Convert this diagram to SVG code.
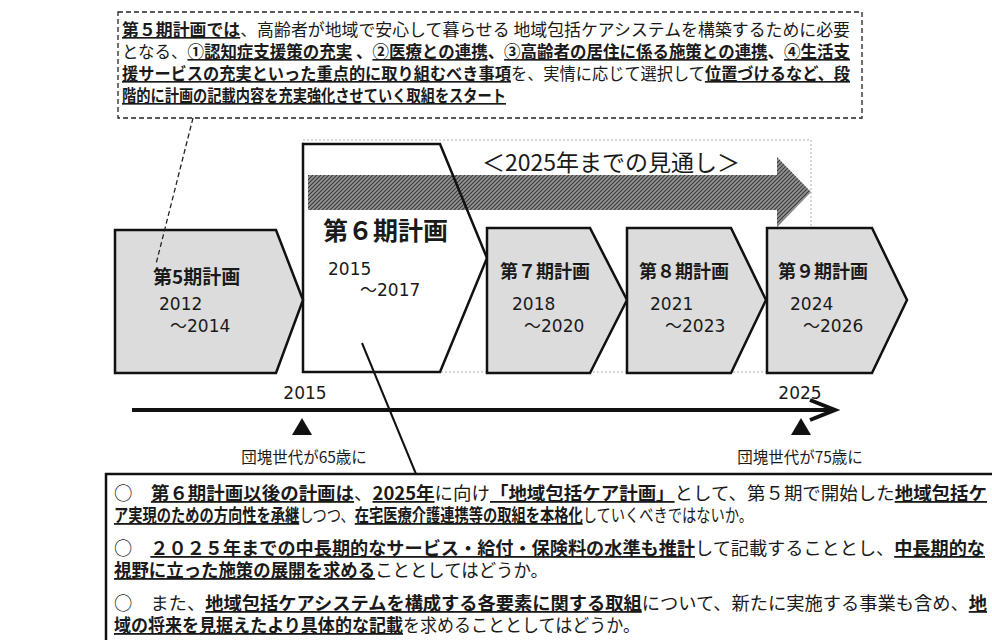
<svg xmlns="http://www.w3.org/2000/svg" width="992" height="640" viewBox="0 0 992 640">
<defs>
<style>
text{font-family:"Noto Sans CJK JP","Noto Sans CJK SC",sans-serif;fill:#1a1a1a}
.b{font-weight:bold}
.u{text-decoration:underline}
.chev{fill:#dcdcdc;stroke:#111;stroke-width:2.5}
.lbl{font-size:18px;font-weight:bold}
.yr{font-size:17px;font-family:"DejaVu Sans","Noto Sans CJK JP",sans-serif}
.top{font-size:16.5px}
.bot{font-size:18px}
</style>
<pattern id="hatch" width="4" height="4" patternUnits="userSpaceOnUse">
<rect width="4" height="4" fill="#959595"/>
<path d="M0 4L4 0M-1 1L1 -1M3 5L5 3" stroke="#3a3a3a" stroke-width="1.2"/>
</pattern>
</defs>
<rect width="992" height="640" fill="#fff"/>

<g id="top-note">
<rect x="118" y="12" width="744" height="106" fill="#fff" stroke="#222" stroke-width="1.3" stroke-dasharray="5 3"/>
<text class="top" x="122" y="36" textLength="728" lengthAdjust="spacingAndGlyphs"><tspan class="b u">第５期計画では</tspan>、高齢者が地域で安心して暮らせる 地域包括ケアシステムを構築するために必要</text>
<text class="top" x="122" y="58" textLength="728" lengthAdjust="spacingAndGlyphs">となる、<tspan class="b u">①認知症支援策の充実</tspan><tspan class="b"> 、</tspan><tspan class="b u">②医療との連携</tspan><tspan class="b">、</tspan><tspan class="b u">③高齢者の居住に係る施策との連携</tspan><tspan class="b">、</tspan><tspan class="b u">④生活支</tspan></text>
<text class="top" x="122" y="80" textLength="728" lengthAdjust="spacingAndGlyphs"><tspan class="b u">援サービスの充実といった重点的に取り組むべき事項</tspan>を、実情に応じて選択して<tspan class="b u">位置づけるなど、段</tspan></text>
<text class="top" x="122" y="102" textLength="384" lengthAdjust="spacingAndGlyphs"><tspan class="b u">階的に計画の記載内容を充実強化させていく取組をスタート</tspan></text>
</g>

<g id="outlook-frame">
<rect x="303" y="140" width="508" height="232" fill="none" stroke="#999" stroke-width="0.8" stroke-dasharray="2 2"/>
</g>

<g id="plan6">
<polygon points="303,144 440,144 487,258 440,372 303,372" fill="#fff"/>
</g>

<g id="outlook-arrow">
<polygon points="308,175 777,175 777,157 811,192 777,227 777,210 308,210" fill="url(#hatch)"/>
<text x="611" y="171" text-anchor="middle" style="font-size:23px">＜2025年までの見通し＞</text>
</g>

<g id="plan6-outline">
<polygon points="303,144 440,144 487,258 440,372 303,372" fill="none" stroke="#111" stroke-width="2.5"/>
<text x="323" y="240" class="b" style="font-size:25px">第６期計画</text>
<text x="328" y="275" class="yr">2015</text>
<text x="360" y="296" class="yr">～2017</text>
</g>

<g id="plan5">
<polygon class="chev" points="115,230 276,230 303,300 276,373 115,373"/>
<text x="153" y="284" class="lbl" style="font-size:19px">第5期計画</text>
<text x="159" y="310" class="yr">2012</text>
<text x="170" y="332" class="yr">～2014</text>
</g>

<g id="plan7">
<polygon class="chev" points="487,228 590,228 627,300 590,373 487,373"/>
<text x="500" y="278" class="lbl">第７期計画</text>
<text x="512" y="310" class="yr">2018</text>
<text x="524" y="332" class="yr">～2020</text>
</g>

<g id="plan8">
<polygon class="chev" points="627,228 731,228 766,300 731,373 627,373"/>
<text x="639" y="278" class="lbl">第８期計画</text>
<text x="650" y="310" class="yr">2021</text>
<text x="665" y="332" class="yr">～2023</text>
</g>

<g id="plan9">
<polygon class="chev" points="767,228 872,228 907,300 872,373 767,373"/>
<text x="778" y="278" class="lbl">第９期計画</text>
<text x="790" y="310" class="yr">2024</text>
<text x="803" y="332" class="yr">～2026</text>
</g>

<g id="timeline">
<line x1="132" y1="410" x2="833" y2="410" stroke="#111" stroke-width="4"/>
<polyline points="810,400 835,410 810,420" fill="none" stroke="#111" stroke-width="4"/>
<text x="305" y="399" text-anchor="middle" class="yr">2015</text>
<text x="800" y="399" text-anchor="middle" class="yr">2025</text>
</g>

<g id="marker-2015">
<polygon points="302,418 312,435 292,435" fill="#111"/>
<text x="304" y="463" text-anchor="middle" style="font-size:15.5px">団塊世代が65歳に</text>
</g>

<g id="marker-2025">
<polygon points="801,418 811,435 791,435" fill="#111"/>
<text x="800" y="463" text-anchor="middle" style="font-size:15.5px">団塊世代が75歳に</text>
</g>

<g id="connectors">
<line x1="193" y1="118" x2="156" y2="264" stroke="#222" stroke-width="1.3" stroke-dasharray="5 3"/>
<line x1="362" y1="343" x2="416" y2="474" stroke="#111" stroke-width="2"/>
</g>

<g id="bottom-note">
<rect x="106" y="474" width="900" height="180" fill="#fff" stroke="#111" stroke-width="2.5"/>
<text class="bot" x="114" y="500" textLength="873" lengthAdjust="spacingAndGlyphs">○　<tspan class="b u">第６期計画以後の計画は</tspan>、<tspan class="b u">2025年</tspan>に向け<tspan class="b u">「地域包括ケア計画」</tspan>として、第５期で開始した<tspan class="b u">地域包括ケ</tspan></text>
<text class="bot" x="114" y="522" textLength="639" lengthAdjust="spacingAndGlyphs"><tspan class="b u">ア実現のための方向性を承継</tspan>しつつ、<tspan class="b u">在宅医療介護連携等の取組を本格化</tspan>していくべきではないか。</text>
<text class="bot" x="114" y="555" textLength="871" lengthAdjust="spacingAndGlyphs">○　<tspan class="b u">２０２５年までの中長期的なサービス・給付・保険料の水準も推計</tspan>して記載することとし、<tspan class="b u">中長期的な</tspan></text>
<text class="bot" x="114" y="577" textLength="434" lengthAdjust="spacingAndGlyphs"><tspan class="b u">視野に立った施策の展開を求める</tspan>こととしてはどうか。</text>
<text class="bot" x="114" y="610" textLength="873" lengthAdjust="spacingAndGlyphs">○　また、<tspan class="b u">地域包括ケアシステムを構成する各要素に関する取組</tspan>について、新たに実施する事業も含め、<tspan class="b u">地</tspan></text>
<text class="bot" x="114" y="632" textLength="526" lengthAdjust="spacingAndGlyphs"><tspan class="b u">域の将来を見据えたより具体的な記載</tspan>を求めることとしてはどうか。</text>
</g>
</svg>
